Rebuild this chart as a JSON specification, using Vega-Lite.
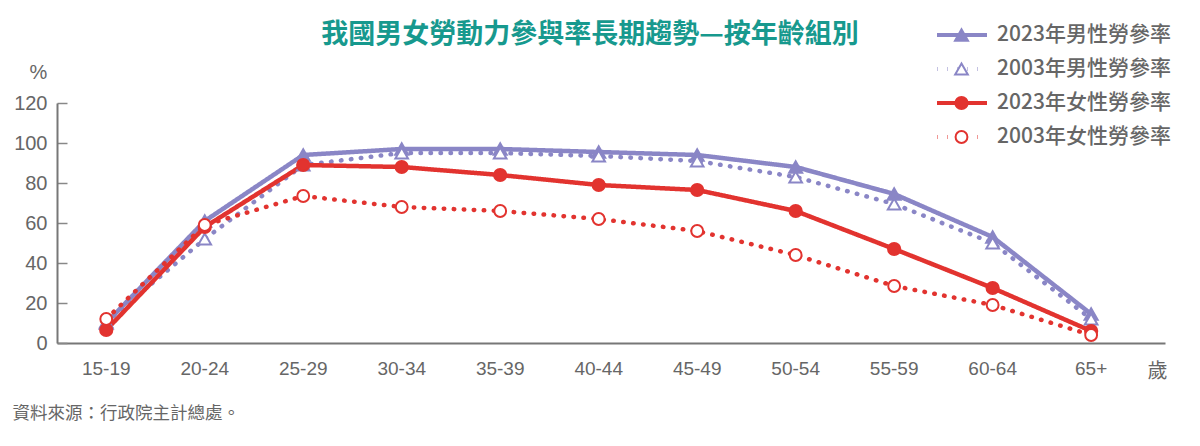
{
  "$schema": "https://vega.github.io/schema/vega-lite/v6.json",
  "autosize": "none",
  "width": 1108,
  "height": 240,
  "padding": {"left": 57, "top": 103, "right": 35, "bottom": 103},
  "background": "white",
  "title": {
    "text": "我國男女勞動力參與率長期趨勢—按年齡組別",
    "anchor": "middle",
    "dx": -21,
    "offset": -24,
    "font": "Noto Sans CJK TC",
    "fontSize": 27,
    "fontWeight": "bold",
    "color": "#17998e"
  },
  "config": {
    "view": {"stroke": null},
    "axis": {"grid": false}
  },
  "data": {
    "values": [
      {"age": "15-19", "series": "2023年男性勞參率", "value": 10},
      {"age": "20-24", "series": "2023年男性勞參率", "value": 61},
      {"age": "25-29", "series": "2023年男性勞參率", "value": 94},
      {"age": "30-34", "series": "2023年男性勞參率", "value": 97},
      {"age": "35-39", "series": "2023年男性勞參率", "value": 97},
      {"age": "40-44", "series": "2023年男性勞參率", "value": 95.5},
      {"age": "45-49", "series": "2023年男性勞參率", "value": 94},
      {"age": "50-54", "series": "2023年男性勞參率", "value": 88},
      {"age": "55-59", "series": "2023年男性勞參率", "value": 74.5},
      {"age": "60-64", "series": "2023年男性勞參率", "value": 53},
      {"age": "65+", "series": "2023年男性勞參率", "value": 14.5},
      {"age": "15-19", "series": "2003年男性勞參率", "value": 10.5},
      {"age": "20-24", "series": "2003年男性勞參率", "value": 52},
      {"age": "25-29", "series": "2003年男性勞參率", "value": 89},
      {"age": "30-34", "series": "2003年男性勞參率", "value": 95},
      {"age": "35-39", "series": "2003年男性勞參率", "value": 95},
      {"age": "40-44", "series": "2003年男性勞參率", "value": 93.5},
      {"age": "45-49", "series": "2003年男性勞參率", "value": 91},
      {"age": "50-54", "series": "2003年男性勞參率", "value": 83},
      {"age": "55-59", "series": "2003年男性勞參率", "value": 69.5},
      {"age": "60-64", "series": "2003年男性勞參率", "value": 50},
      {"age": "65+", "series": "2003年男性勞參率", "value": 12},
      {"age": "15-19", "series": "2023年女性勞參率", "value": 6.5},
      {"age": "20-24", "series": "2023年女性勞參率", "value": 58},
      {"age": "25-29", "series": "2023年女性勞參率", "value": 89},
      {"age": "30-34", "series": "2023年女性勞參率", "value": 88},
      {"age": "35-39", "series": "2023年女性勞參率", "value": 84},
      {"age": "40-44", "series": "2023年女性勞參率", "value": 79},
      {"age": "45-49", "series": "2023年女性勞參率", "value": 76.5},
      {"age": "50-54", "series": "2023年女性勞參率", "value": 66},
      {"age": "55-59", "series": "2023年女性勞參率", "value": 47},
      {"age": "60-64", "series": "2023年女性勞參率", "value": 27.5},
      {"age": "65+", "series": "2023年女性勞參率", "value": 6},
      {"age": "15-19", "series": "2003年女性勞參率", "value": 12},
      {"age": "20-24", "series": "2003年女性勞參率", "value": 59},
      {"age": "25-29", "series": "2003年女性勞參率", "value": 73.5},
      {"age": "30-34", "series": "2003年女性勞參率", "value": 68},
      {"age": "35-39", "series": "2003年女性勞參率", "value": 66},
      {"age": "40-44", "series": "2003年女性勞參率", "value": 62},
      {"age": "45-49", "series": "2003年女性勞參率", "value": 56},
      {"age": "50-54", "series": "2003年女性勞參率", "value": 44},
      {"age": "55-59", "series": "2003年女性勞參率", "value": 28.5},
      {"age": "60-64", "series": "2003年女性勞參率", "value": 19},
      {"age": "65+", "series": "2003年女性勞參率", "value": 4}
    ]
  },
  "encoding": {
    "y": {
      "field": "value",
      "type": "quantitative",
      "scale": {"domain": [0, 120], "nice": false},
      "axis": {
        "values": [0, 20, 40, 60, 80, 100, 120],
        "title": "%",
        "titleAngle": 0,
        "titleX": -19,
        "titleY": -31,
        "titleAlign": "center",
        "titleBaseline": "middle",
        "titleFont": "Liberation Sans",
        "titleFontSize": 20,
        "titleFontWeight": "normal",
        "titleColor": "#666666",
        "labelFont": "Liberation Sans",
        "labelFontSize": 20,
        "labelColor": "#666666",
        "labelPadding": 20,
        "tickSize": -10,
        "tickColor": "#888888",
        "tickWidth": 1.5,
        "domainColor": "#777777",
        "domainWidth": 2
      }
    }
  },
  "layer": [
    {
      "mark": {"type": "line", "strokeWidth": 4.5, "strokeCap": "round", "strokeJoin": "round"},
      "encoding": {
        "x": {
          "field": "age",
          "type": "nominal",
          "sort": null,
          "bandPosition": 0.5,
          "scale": {"type": "band", "paddingInner": 0, "paddingOuter": 0.125, "align": 0},
          "axis": {
            "orient": "bottom",
            "title": "歲",
            "titleX": 1100,
            "titleY": 28,
            "titleAlign": "center",
            "titleBaseline": "middle",
            "titleFont": "Noto Sans CJK TC",
            "titleFontSize": 20,
            "titleFontWeight": "normal",
            "titleColor": "#666666",
            "labelAngle": 0,
            "labelFont": "Liberation Sans",
            "labelFontSize": 19,
            "labelColor": "#666666",
            "labelPadding": 16,
            "ticks": false,
            "domainColor": "#777777",
            "domainWidth": 2
          }
        },
        "color": {
          "field": "series",
          "type": "nominal",
          "scale": {
            "domain": ["2023年男性勞參率", "2003年男性勞參率", "2023年女性勞參率", "2003年女性勞參率"],
            "range": ["#8a86c6", "#8a86c6", "#e2332f", "#e2332f"]
          },
          "legend": {
            "orient": "none",
            "legendX": 878,
            "legendY": -78,
            "title": null,
            "padding": 0,
            "symbolType": "stroke",
            "symbolSize": 2500,
            "symbolStrokeWidth": 4,
            "clipHeight": 20,
            "rowPadding": 13,
            "labelOffset": 8,
            "labelFont": "Noto Sans CJK TC",
            "labelFontSize": 21,
            "labelFontWeight": 500,
            "labelColor": "#666666",
            "labelLimit": 300,
            "zindex": 0
          }
        },
        "strokeDash": {
          "field": "series",
          "type": "nominal",
          "scale": {
            "domain": ["2023年男性勞參率", "2003年男性勞參率", "2023年女性勞參率", "2003年女性勞參率"],
            "range": [[1, 0], [0.5, 9.5], [1, 0], [0.5, 9.5]]
          }
        }
      }
    },
    {
      "mark": {"type": "point", "strokeWidth": 2, "opacity": 1},
      "encoding": {
        "x": {
          "field": "age",
          "type": "nominal",
          "sort": null,
          "bandPosition": 0.5,
          "axis": {
            "orient": "top",
            "labels": false,
            "ticks": false,
            "domain": false,
            "title": "資料來源：行政院主計總處。",
            "titleX": -45,
            "titleY": 310,
            "titleAlign": "left",
            "titleBaseline": "middle",
            "titleFont": "Noto Sans CJK TC",
            "titleFontSize": 17.5,
            "titleFontWeight": "normal",
            "titleColor": "#666666"
          }
        },
        "shape": {
          "field": "series",
          "type": "nominal",
          "scale": {
            "domain": ["2003年女性勞參率", "2023年女性勞參率", "2003年男性勞參率", "2023年男性勞參率"],
            "range": ["circle", "circle", "triangle-up", "triangle-up"]
          },
          "legend": {
            "orient": "none",
            "legendX": 894,
            "legendY": -78,
            "values": ["2023年男性勞參率", "2003年男性勞參率", "2023年女性勞參率", "2003年女性勞參率"],
            "title": null,
            "padding": 0,
            "symbolStrokeWidth": 2,
            "clipHeight": 20,
            "rowPadding": 13,
            "labelExpr": "''",
            "labelFontSize": 21,
            "zindex": 1
          }
        },
        "stroke": {
          "field": "series",
          "type": "nominal",
          "scale": {
            "domain": ["2003年女性勞參率", "2023年女性勞參率", "2003年男性勞參率", "2023年男性勞參率"],
            "range": ["#e2332f", "#e2332f", "#8a86c6", "#8a86c6"]
          }
        },
        "fill": {
          "field": "series",
          "type": "nominal",
          "scale": {
            "domain": ["2003年女性勞參率", "2023年女性勞參率", "2003年男性勞參率", "2023年男性勞參率"],
            "range": ["#ffffff", "#e2332f", "#ffffff", "#8a86c6"]
          }
        },
        "size": {
          "field": "series",
          "type": "nominal",
          "scale": {
            "domain": ["2003年女性勞參率", "2023年女性勞參率", "2003年男性勞參率", "2023年男性勞參率"],
            "range": [140, 170, 260, 300]
          }
        }
      }
    }
  ],
  "resolve": {"axis": {"x": "independent"}}
}
